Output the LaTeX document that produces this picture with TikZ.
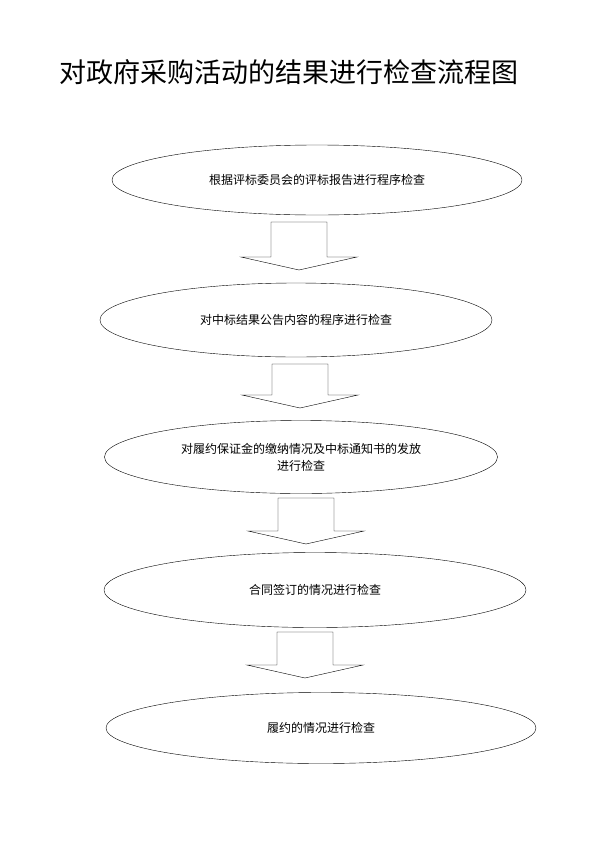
\documentclass[tikz,border=0pt]{standalone}
\usepackage{fontspec}
\newfontfamily\cjk{Noto Sans CJK SC}
\usetikzlibrary{shapes.geometric}

% hollow block arrow: centre x, top y, bottom y
\newcommand{\blockarrow}[3]{%
  \draw[thin] (#1-28,#2) -- (#1+28,#2) -- (#1+28,#3-13) -- (#1+58,#3-13)
    -- (#1,#3) -- (#1-58,#3-13) -- (#1-28,#3-13) -- cycle;}

\begin{document}
\begin{tikzpicture}[x=1pt,y=-1pt,
  every node/.style={font=\cjk\fontsize{12}{17}\selectfont},
  stage/.style={draw,ellipse,thin,align=center}]

  \useasboundingbox (0,0) rectangle (600,849);

  % title
  \node[font=\cjk\fontsize{27}{30}\selectfont,anchor=west] (title) at (56,72) {对政府采购活动的结果进行检查流程图};

  % stages
  \node[stage,minimum width=410,minimum height=70] (s1) at (317,180) {根据评标委员会的评标报告进行程序检查};
  \node[stage,minimum width=392,minimum height=74] (s2) at (296,320) {对中标结果公告内容的程序进行检查};
  \node[stage,minimum width=393,minimum height=73] (s3) at (301,457) {对履约保证金的缴纳情况及中标通知书的发放\\进行检查};
  \node[stage,minimum width=422,minimum height=75] (s4) at (315,590) {合同签订的情况进行检查};
  \node[stage,minimum width=430,minimum height=71] (s5) at (321,728) {履约的情况进行检查};

  % arrows
  \blockarrow{299}{222}{270}
  \blockarrow{300}{364}{408}
  \blockarrow{306}{498}{544}
  \blockarrow{305}{632}{678}

\end{tikzpicture}
\end{document}
